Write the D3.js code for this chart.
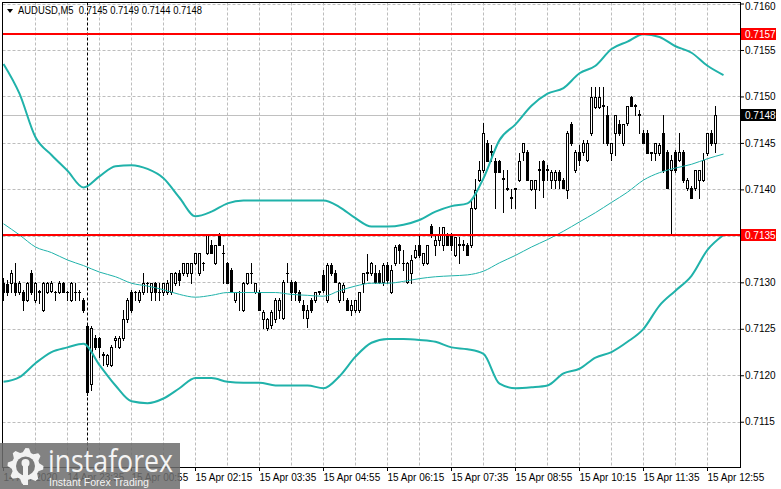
<!DOCTYPE html>
<html><head><meta charset="utf-8">
<script src="https://cdn.jsdelivr.net/npm/d3@7"></script>
<style>
html,body{margin:0;padding:0;background:#fff;}
svg{display:block;}
text{font-family:"Liberation Sans",Arial,sans-serif;}
</style></head>
<body><svg id="c" width="781" height="489"></svg>
<script>
// ---------------- DATA ----------------
const symbol = "AUDUSD,M5";
const lastBar = [0.7145, 0.7149, 0.7144, 0.7148]; // O H L C shown in header
const timeLabels = ["14 Apr 2020","14 Apr 23:35","15 Apr 00:55","15 Apr 02:15","15 Apr 03:35","15 Apr 04:55",
  "15 Apr 06:15","15 Apr 07:35","15 Apr 08:55","15 Apr 10:15","15 Apr 11:35","15 Apr 12:55"];
const timeTickBars = [0,16,32,48,64,80,96,112,128,144,160,176];
const priceTicks = [0.7115,0.7120,0.7125,0.7130,0.7135,0.7140,0.7145,0.7150,0.7155,0.7160];

const open = [
0.71299,0.71298,0.71299,0.71299,0.71290,0.71290,0.71281,0.71310,0.71281,0.71290,
0.71270,0.71290,0.71291,0.71290,0.71290,0.71299,0.71290,0.71281,0.71290,0.71290,
0.71281,0.71253,0.71191,0.71240,0.71240,0.71222,0.71212,0.71211,0.71238,0.71230,
0.71240,0.71260,0.71290,0.71290,0.71281,0.71290,0.71299,0.71290,0.71299,0.71290,
0.71290,0.71290,0.71290,0.71299,0.71310,0.71310,0.71310,0.71310,0.71321,0.71310,
0.71321,0.71332,0.71340,0.71321,0.71351,0.71332,0.71321,0.71313,0.71281,0.71290,
0.71270,0.71299,0.71310,0.71290,0.71290,0.71260,0.71251,0.71254,0.71260,0.71270,
0.71262,0.71310,0.71300,0.71300,0.71290,0.71276,0.71262,0.71281,0.71281,0.71290,
0.71308,0.71281,0.71319,0.71310,0.71281,0.71290,0.71281,0.71270,0.71270,0.71270,
0.71299,0.71310,0.71310,0.71310,0.71310,0.71300,0.71319,0.71290,0.71321,0.71340,
0.71321,0.71300,0.71310,0.71327,0.71340,0.71321,0.71321,0.71361,0.71340,0.71346,
0.71340,0.71351,0.71351,0.71329,0.71340,0.71340,0.71340,0.71340,0.71380,0.71410,
0.71421,0.71450,0.71440,0.71431,0.71431,0.71411,0.71400,0.71391,0.71400,0.71410,
0.71440,0.71440,0.71400,0.71400,0.71421,0.71430,0.71421,0.71410,0.71410,0.71419,
0.71410,0.71399,0.71470,0.71421,0.71440,0.71440,0.71432,0.71461,0.71489,0.71489,
0.71490,0.71480,0.71439,0.71461,0.71470,0.71450,0.71471,0.71499,0.71490,0.71480,
0.71461,0.71461,0.71439,0.71439,0.71439,0.71461,0.71440,0.71421,0.71440,0.71432,
0.71440,0.71402,0.71402,0.71402,0.71410,0.71410,0.71439,0.71461,0.71450];
const high = [
0.71305,0.71303,0.71313,0.71321,0.71301,0.71292,0.71300,0.71313,0.71300,0.71292,
0.71300,0.71300,0.71301,0.71291,0.71301,0.71300,0.71291,0.71300,0.71299,0.71292,
0.71283,0.71254,0.71253,0.71243,0.71241,0.71225,0.71223,0.71233,0.71242,0.71242,
0.71270,0.71283,0.71292,0.71291,0.71292,0.71310,0.71300,0.71299,0.71300,0.71299,
0.71299,0.71303,0.71310,0.71311,0.71313,0.71321,0.71321,0.71321,0.71332,0.71332,
0.71322,0.71351,0.71346,0.71340,0.71353,0.71340,0.71322,0.71315,0.71290,0.71291,
0.71300,0.71310,0.71321,0.71299,0.71292,0.71270,0.71262,0.71270,0.71283,0.71283,
0.71303,0.71321,0.71303,0.71301,0.71292,0.71281,0.71276,0.71283,0.71290,0.71291,
0.71313,0.71321,0.71321,0.71313,0.71300,0.71299,0.71283,0.71281,0.71281,0.71290,
0.71310,0.71331,0.71322,0.71319,0.71313,0.71321,0.71322,0.71319,0.71340,0.71341,
0.71335,0.71322,0.71329,0.71340,0.71351,0.71332,0.71340,0.71363,0.71351,0.71360,
0.71360,0.71353,0.71353,0.71349,0.71349,0.71346,0.71342,0.71389,0.71411,0.71430,
0.71471,0.71453,0.71448,0.71434,0.71432,0.71421,0.71421,0.71400,0.71401,0.71439,
0.71450,0.71442,0.71410,0.71410,0.71430,0.71432,0.71426,0.71421,0.71421,0.71421,
0.71412,0.71463,0.71473,0.71442,0.71448,0.71453,0.71453,0.71510,0.71510,0.71510,
0.71510,0.71490,0.71450,0.71480,0.71475,0.71470,0.71490,0.71500,0.71492,0.71485,
0.71464,0.71464,0.71440,0.71450,0.71450,0.71480,0.71442,0.71437,0.71442,0.71461,
0.71442,0.71412,0.71404,0.71421,0.71421,0.71439,0.71461,0.71464,0.71490];
const low = [
0.71281,0.71286,0.71290,0.71286,0.71287,0.71270,0.71280,0.71287,0.71279,0.71278,
0.71269,0.71289,0.71290,0.71281,0.71289,0.71290,0.71281,0.71280,0.71281,0.71281,
0.71268,0.71179,0.71184,0.71228,0.71220,0.71211,0.71210,0.71210,0.71230,0.71229,
0.71238,0.71257,0.71268,0.71281,0.71279,0.71287,0.71290,0.71281,0.71281,0.71281,
0.71286,0.71287,0.71287,0.71297,0.71297,0.71308,0.71307,0.71299,0.71320,0.71308,
0.71313,0.71331,0.71332,0.71320,0.71340,0.71299,0.71299,0.71290,0.71279,0.71270,
0.71269,0.71298,0.71299,0.71289,0.71270,0.71251,0.71249,0.71251,0.71257,0.71262,
0.71260,0.71300,0.71281,0.71281,0.71279,0.71262,0.71252,0.71268,0.71279,0.71287,
0.71290,0.71279,0.71308,0.71300,0.71279,0.71281,0.71270,0.71265,0.71268,0.71268,
0.71290,0.71303,0.71308,0.71299,0.71299,0.71297,0.71299,0.71289,0.71319,0.71321,
0.71313,0.71299,0.71299,0.71326,0.71327,0.71319,0.71320,0.71349,0.71329,0.71340,
0.71335,0.71340,0.71335,0.71328,0.71321,0.71335,0.71329,0.71338,0.71379,0.71409,
0.71419,0.71430,0.71430,0.71380,0.71419,0.71376,0.71399,0.71380,0.71380,0.71409,
0.71432,0.71410,0.71399,0.71380,0.71399,0.71392,0.71410,0.71402,0.71402,0.71402,
0.71402,0.71391,0.71448,0.71419,0.71426,0.71437,0.71430,0.71459,0.71488,0.71488,
0.71450,0.71448,0.71432,0.71437,0.71459,0.71448,0.71469,0.71490,0.71480,0.71461,
0.71450,0.71439,0.71432,0.71432,0.71437,0.71419,0.71402,0.71351,0.71419,0.71430,
0.71408,0.71399,0.71391,0.71399,0.71391,0.71409,0.71437,0.71448,0.71440];
const close = [
0.71290,0.71290,0.71310,0.71290,0.71299,0.71281,0.71299,0.71290,0.71299,0.71291,
0.71299,0.71299,0.71299,0.71290,0.71299,0.71290,0.71290,0.71299,0.71290,0.71290,
0.71270,0.71182,0.71251,0.71230,0.71230,0.71223,0.71222,0.71230,0.71240,0.71240,
0.71260,0.71281,0.71270,0.71290,0.71290,0.71299,0.71299,0.71299,0.71290,0.71290,
0.71299,0.71299,0.71310,0.71310,0.71303,0.71321,0.71321,0.71321,0.71332,0.71332,
0.71321,0.71351,0.71332,0.71340,0.71340,0.71332,0.71299,0.71290,0.71290,0.71290,
0.71299,0.71310,0.71310,0.71299,0.71270,0.71268,0.71260,0.71268,0.71281,0.71281,
0.71300,0.71310,0.71290,0.71290,0.71281,0.71270,0.71270,0.71270,0.71290,0.71291,
0.71292,0.71319,0.71310,0.71300,0.71299,0.71297,0.71270,0.71276,0.71281,0.71290,
0.71310,0.71311,0.71321,0.71300,0.71300,0.71319,0.71303,0.71313,0.71338,0.71335,
0.71321,0.71321,0.71324,0.71335,0.71329,0.71332,0.71340,0.71351,0.71346,0.71351,
0.71360,0.71340,0.71340,0.71349,0.71341,0.71341,0.71329,0.71380,0.71399,0.71421,
0.71461,0.71430,0.71441,0.71419,0.71419,0.71412,0.71401,0.71392,0.71401,0.71430,
0.71450,0.71410,0.71410,0.71410,0.71422,0.71410,0.71422,0.71419,0.71419,0.71410,
0.71402,0.71461,0.71450,0.71440,0.71432,0.71450,0.71450,0.71499,0.71499,0.71499,
0.71491,0.71450,0.71450,0.71480,0.71461,0.71470,0.71490,0.71490,0.71491,0.71481,
0.71450,0.71439,0.71440,0.71450,0.71448,0.71421,0.71402,0.71432,0.71421,0.71440,
0.71410,0.71410,0.71391,0.71421,0.71421,0.71432,0.71461,0.71450,0.71480];

const indicatorBars = [0,4,8,12,16,20,24,28,32,36,40,44,48,52,56,60,64,68,72,76,80,84,88,92,96,
  100,104,108,112,116,120,124,128,132,136,140,144,148,152,156,160,164,168,172,176,180];
const bbUpper = [
0.71535,0.71503,0.71456,0.71437,0.71420,0.71402,0.71414,0.71425,0.71426,0.71422,
0.71412,0.71391,0.71371,0.71376,0.71385,0.71388,0.71388,0.71388,0.71388,0.71388,
0.71388,0.71381,0.71369,0.71360,0.71360,0.71362,0.71367,0.71376,0.71382,0.71385,
0.71412,0.71453,0.71470,0.71490,0.71503,0.71509,0.71525,0.71533,0.71551,0.71559,
0.71567,0.71564,0.71554,0.71547,0.71533,0.71523];
const bbLower = [
0.71193,0.71198,0.71213,0.71225,0.71230,0.71234,0.71211,0.71189,0.71172,0.71170,
0.71175,0.71186,0.71197,0.71197,0.71193,0.71192,0.71192,0.71189,0.71189,0.71189,
0.71186,0.71199,0.71220,0.71235,0.71239,0.71239,0.71238,0.71236,0.71230,0.71228,
0.71223,0.71191,0.71186,0.71187,0.71189,0.71202,0.71207,0.71219,0.71225,0.71236,
0.71250,0.71275,0.71291,0.71307,0.71335,0.71351];
const maSlow = [
0.71363,0.71351,0.71338,0.71332,0.71324,0.71318,0.71311,0.71306,0.71299,0.71296,
0.71292,0.71287,0.71284,0.71286,0.71289,0.71289,0.71289,0.71289,0.71287,0.71286,
0.71285,0.71291,0.71296,0.71299,0.71299,0.71301,0.71304,0.71306,0.71307,0.71308,
0.71312,0.71321,0.71329,0.71338,0.71346,0.71355,0.71365,0.71375,0.71386,0.71397,
0.71410,0.71418,0.71423,0.71427,0.71433,0.71438];

const levelPrices = [0.71567, 0.71351];
const bidPrice = 0.7148;
const separatorBar = 21;

// ---------------- DRAW ----------------
const W = 781, H = 489;
const P = {l: 2.5, t: 2.5, r: 740.5, b: 467.5};
const teal = "#20b2aa";
const fmt = d3.format(".4f");

const x = d3.scaleLinear().domain([0, 178]).range([3, 715]);
const y = d3.scaleLinear().domain([0.7110, 0.7160]).range([468.2, 3.5]);

const svg = d3.select("#c");
svg.append("rect").attr("width", W).attr("height", H).attr("fill", "#fff");

svg.append("defs").append("clipPath").attr("id", "plotclip")
  .append("rect").attr("x", P.l).attr("y", P.t).attr("width", P.r - P.l).attr("height", P.b - P.t);

const plot = svg.append("g").attr("clip-path", "url(#plotclip)");

// grid
const grid = plot.append("g").attr("stroke", "#bdbdbd").attr("stroke-width", 1).attr("stroke-dasharray", "3,2");
const gridBars = d3.range(8, 180, 8);
grid.selectAll("line.v").data(gridBars).join("line")
  .attr("x1", d => Math.round(x(d)) + 0.5).attr("x2", d => Math.round(x(d)) + 0.5)
  .attr("y1", P.t).attr("y2", P.b);
grid.selectAll("line.h").data(priceTicks).join("line")
  .attr("x1", P.l).attr("x2", P.r)
  .attr("y1", d => Math.round(y(d)) + 0.5).attr("y2", d => Math.round(y(d)) + 0.5);

// bid line
plot.append("line").attr("x1", P.l).attr("x2", P.r)
  .attr("y1", Math.round(y(bidPrice)) + 0.5).attr("y2", Math.round(y(bidPrice)) + 0.5)
  .attr("stroke", "#c0c0c0").attr("stroke-width", 1);

// day separator
plot.append("line")
  .attr("x1", Math.round(x(separatorBar)) + 0.5).attr("x2", Math.round(x(separatorBar)) + 0.5)
  .attr("y1", P.t).attr("y2", P.b)
  .attr("stroke", "#000").attr("stroke-dasharray", "3,2");

// candles
const bars = open.map((o, i) => ({i, o, h: high[i], l: low[i], c: close[i]}));
const cg = plot.append("g");
bars.forEach(b => {
  const cx = Math.round(x(b.i));
  const yh = Math.round(y(b.h)), yl = Math.round(y(b.l));
  const yo = Math.round(y(b.o)), yc = Math.round(y(b.c));
  cg.append("rect").attr("x", cx).attr("y", yh).attr("width", 1).attr("height", Math.max(1, yl - yh + 1)).attr("fill", "#000");
  const top = Math.min(yo, yc), bot = Math.max(yo, yc);
  if (bot - top < 1) {
    cg.append("rect").attr("x", cx - 1).attr("y", top).attr("width", 3).attr("height", 1).attr("fill", "#000");
  } else if (b.c > b.o) {
    cg.append("rect").attr("x", cx - 0.5).attr("y", top + 0.5).attr("width", 2).attr("height", bot - top)
      .attr("fill", "#fff").attr("stroke", "#000").attr("stroke-width", 1);
  } else {
    cg.append("rect").attr("x", cx - 1).attr("y", top).attr("width", 3).attr("height", bot - top + 1).attr("fill", "#000");
  }
});

// indicators
const line = d3.line().x(d => x(d[0]) + 0.5).y(d => y(d[1])).curve(d3.curveMonotoneX);
plot.append("path").datum(indicatorBars.map((b, k) => [b, maSlow[k]]))
  .attr("d", line).attr("fill", "none").attr("stroke", teal).attr("stroke-width", 1);
[bbUpper, bbLower].forEach(arr => {
  plot.append("path").datum(indicatorBars.map((b, k) => [b, arr[k]]))
    .attr("d", line).attr("fill", "none").attr("stroke", teal).attr("stroke-width", 2);
});

// level lines
levelPrices.forEach(p => {
  plot.append("line").attr("x1", P.l).attr("x2", P.r)
    .attr("y1", Math.round(y(p))).attr("y2", Math.round(y(p)))
    .attr("stroke", "#ff0000").attr("stroke-width", 2);
});

// frame
svg.append("rect").attr("x", P.l).attr("y", P.t).attr("width", P.r - P.l).attr("height", P.b - P.t)
  .attr("fill", "none").attr("stroke", "#000").attr("stroke-width", 1);

// right axis
const ya = svg.append("g").attr("transform", `translate(${P.r - 0.5},0)`)
  .call(d3.axisRight(y).tickValues(priceTicks).tickSize(4).tickPadding(1).tickFormat(fmt));
ya.select(".domain").remove();
ya.selectAll("text").attr("font-size", 10).attr("fill", "#000").style("font-family", '"Liberation Sans",Arial,sans-serif')
  .attr("y", d => (y(d) < 6 ? 6 - y(d) : 0));
ya.selectAll("line").attr("stroke", "#000");

// bottom axis
const xa = svg.append("g").attr("transform", `translate(0,${P.b - 0.5})`)
  .call(d3.axisBottom(x).tickValues(timeTickBars).tickSize(4).tickPadding(2.5).tickFormat((d, i) => timeLabels[i]));
xa.select(".domain").remove();
xa.selectAll("text").attr("font-size", 10).attr("fill", "#000").attr("text-anchor", "start")
  .style("font-family", '"Liberation Sans",Arial,sans-serif');
xa.selectAll("line").attr("stroke", "#000");

// price tags
function tag(p, bg) {
  const cy = Math.round(y(p));
  svg.append("rect").attr("x", 741).attr("y", cy - 6).attr("width", 35).attr("height", 12).attr("fill", bg);
  svg.append("text").attr("x", 745).attr("y", cy + 4).attr("font-size", 10).attr("fill", "#fff").text(fmt(p));
}
tag(levelPrices[0], "#ff0000");
tag(levelPrices[1], "#ff0000");
tag(bidPrice, "#000");

// header
svg.append("path").attr("d", "M7,9 L13,9 L10,13 Z").attr("fill", "#000");
svg.append("text").attr("x", 18).attr("y", 14).attr("font-size", 10).attr("fill", "#000")
  .attr("xml:space", "preserve").attr("textLength", 184).attr("lengthAdjust", "spacingAndGlyphs")
  .text(symbol + "  " + lastBar.map(fmt).join(" "));

// logo watermark
const logo = svg.append("g");
logo.append("rect").attr("x", 0).attr("y", 443).attr("width", 180).attr("height", 46)
  .attr("fill", "#6e6e6e").attr("opacity", 0.86);
const gcx = 25.5, gcy = 466, teeth = 8;
let gp = "";
for (let k = 0; k < teeth * 4; k++) {
  const a = (k / (teeth * 4)) * Math.PI * 2 - Math.PI / 2;
  const r = (k % 4 < 2) ? 18 : 14;
  gp += (k === 0 ? "M" : "L") + (gcx + r * Math.cos(a)).toFixed(2) + "," + (gcy + r * Math.sin(a)).toFixed(2);
}
gp += "Z";
logo.append("path").attr("d", gp).attr("fill", "#f2f2f2");
logo.append("circle").attr("cx", gcx).attr("cy", gcy).attr("r", 9.5).attr("fill", "#7a7a7a");
logo.append("circle").attr("cx", gcx).attr("cy", gcy - 3).attr("r", 4).attr("fill", "#f2f2f2");
logo.append("rect").attr("x", gcx - 2.5).attr("y", gcy - 1).attr("width", 5).attr("height", 20).attr("fill", "#f2f2f2");
logo.append("text").attr("x", 48).attr("y", 472).attr("font-size", 31).attr("fill", "#f4f4f4")
  .attr("textLength", 125).attr("lengthAdjust", "spacingAndGlyphs")
  .style("font-family", '"Open Sans","Liberation Sans",sans-serif').style("font-weight", 400)
  .text("instaforex");
logo.append("text").attr("x", 49).attr("y", 486).attr("font-size", 11.5).attr("fill", "#f4f4f4")
  .attr("textLength", 100).attr("lengthAdjust", "spacingAndGlyphs")
  .text("Instant Forex Trading");
</script>
</body></html>
